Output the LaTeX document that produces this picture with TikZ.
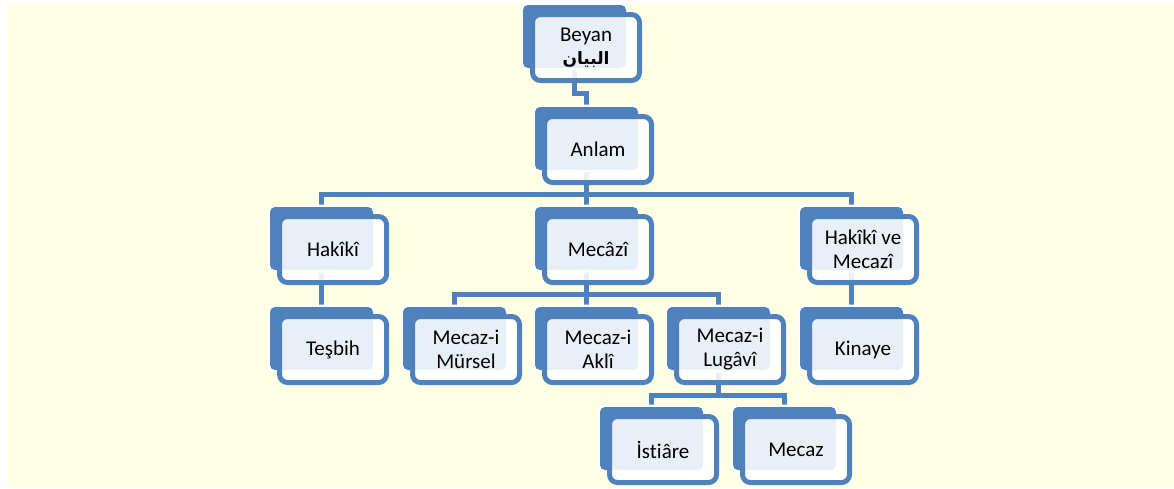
\documentclass[tikz,border=0pt]{standalone}
\usepackage{fontspec}
\setmainfont{Carlito}[Ligatures=NoCommon]
\newfontfamily\arabicfont[Script=Arabic]{DejaVu Sans}
\TeXXeTstate=1
\definecolor{bgyel}{RGB}{255,255,229}
\definecolor{sablue}{RGB}{79,129,189}
\tikzset{
  backbox/.style={preaction={draw=white, line width=5pt}, fill=sablue, rounded corners=5pt,
    minimum width=103pt, minimum height=63pt, inner sep=0pt},
  frontbox/.style={draw=sablue, line width=5pt, fill=white, fill opacity=0.88,
    draw opacity=1, text opacity=1, rounded corners=8pt,
    minimum width=107pt, minimum height=66pt, inner sep=0pt, align=center,
    font=\fontsize{21}{24}\selectfont},
  conn/.style={draw=sablue, line width=5pt}
}
\newcommand\smabox[4]{%
  \node[backbox] (#1-b) at (#2+51.5,#3+31.5) {};
  \node[frontbox] (#1) at (#2+63,#3+42.5) {#4};
}
\begin{document}
\begin{tikzpicture}[x=1pt,y=-1pt]
\useasboundingbox (0,0) rectangle (1174,488);
\fill[bgyel] (7,3) rectangle (1174,488);
\coordinate (jog) at (586.5,93);
\coordinate (bar1) at (0,194);
\coordinate (bar2) at (0,294);
\coordinate (bar3) at (0,395);
\coordinate (cbeyan) at (574.5,36.5);
\coordinate (canlam) at (586.5,138.5);
\coordinate (chakiki) at (321.5,238.5);
\coordinate (cmecazi) at (586.5,238.5);
\coordinate (chvm) at (851.5,238.5);
\coordinate (ctesbih) at (321.5,338.5);
\coordinate (cmursel) at (454.5,338.5);
\coordinate (cakli) at (586.5,338.5);
\coordinate (clugavi) at (718.5,338.5);
\coordinate (ckinaye) at (851.5,338.5);
\coordinate (cistiare) at (651.5,438.5);
\coordinate (cmecaz) at (784.5,438.5);
\draw[conn] (cbeyan) |- (jog) -- (canlam);
\draw[conn] (canlam) -- (canlam |- bar1);
\draw[conn] (chakiki) -- (chakiki |- bar1) -- (chvm |- bar1) -- (chvm);
\draw[conn] (canlam |- bar1) -- (cmecazi);
\draw[conn] (chakiki) -- (ctesbih);
\draw[conn] (chvm) -- (ckinaye);
\draw[conn] (cmecazi) -- (cmecazi |- bar2);
\draw[conn] (cmursel) -- (cmursel |- bar2) -- (clugavi |- bar2) -- (clugavi);
\draw[conn] (cmecazi |- bar2) -- (cakli);
\draw[conn] (clugavi) -- (clugavi |- bar3);
\draw[conn] (cistiare) -- (cistiare |- bar3) -- (cmecaz |- bar3) -- (cmecaz);
% boxes
\smabox{beyan}{523}{5}{Beyan\\[-1pt]{\arabicfont\bfseries\fontsize{17}{20}\selectfont\beginR البيان\endR}}
\smabox{anlam}{535}{107}{Anlam}
\smabox{hakiki}{270}{207}{Hakîkî}
\smabox{mecazi}{535}{207}{Mecâzî}
\smabox{hvm}{800}{207}{Hakîkî ve\\Mecazî}
\smabox{tesbih}{270}{307}{Teşbih}
\smabox{mursel}{403}{307}{Mecaz-i\\Mürsel}
\smabox{akli}{535}{307}{Mecaz-i\\Aklî}
\smabox{lugavi}{667}{307}{Mecaz-i\\Lugâvî}
\smabox{kinaye}{800}{307}{Kinaye}
\smabox{istiare}{600}{407}{İstiâre}
\smabox{mecaz}{733}{407}{Mecaz}
\end{tikzpicture}
\end{document}
